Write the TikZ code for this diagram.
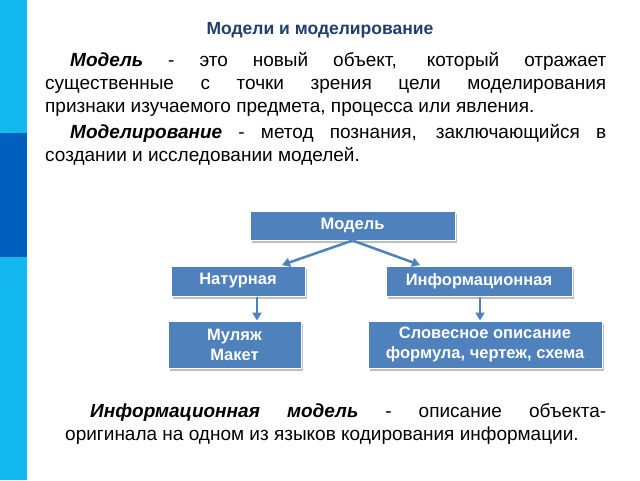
\documentclass[tikz,border=0pt]{standalone}
\usepackage{fontspec}
\setmainfont{Liberation Sans}
\usetikzlibrary{arrows.meta}
\definecolor{lb}{HTML}{12B8EE}
\definecolor{db}{HTML}{0060C0}
\definecolor{bx}{HTML}{4F81BD}
\definecolor{tt}{HTML}{1F3F6F}
\begin{document}
\begin{tikzpicture}[x=1pt,y=-1pt,
 box/.style={draw=white,line width=1pt,fill=bx,text=white,font=\fontsize{16.5}{20}\selectfont\bfseries,align=center,inner sep=0pt},
 arr/.style={-{Triangle[length=8pt,width=9pt]},draw=bx,line width=2.5pt},
 para/.style={anchor=north west,align=justify,inner sep=0pt,font=\fontsize{19}{23}\selectfont}]
\useasboundingbox (0,0) rectangle (640,480);
\fill[white] (0,0) rectangle (640,480);
\fill[lb] (0,0) rectangle (27,480);
\fill[db] (0,133) rectangle (27,257);
\node[font=\fontsize{17.5}{20}\selectfont\bfseries,text=tt] (title) at (320,30) {Модели и моделирование};
\node[para,text width=561pt] (p1) at (45,52) {\hspace*{25pt}\textbf{\textit{Модель}} - это новый объект, который отражает\linebreak существенные с точки зрения цели моделирования\linebreak признаки изучаемого предмета, процесса или явления.\par\vspace{3pt}
\hspace*{25pt}\textbf{\textit{Моделирование}} - метод познания, заключающийся в\linebreak создании и исследовании моделей.};
\foreach \n/\a/\b/\c/\d/\t in {m/250/211/455/240/Модель, n/171/266/305/296/Натурная, i/386/266/572/296/Информационная, mu/168/321/301/368/{Муляж\\Макет}, s/368/321/602/368/{Словесное описание\\формула, чертеж, схема}}{
 \fill[gray!50] (\a+2,\b+3) rectangle (\c+2,\d+3);
 \node[box,minimum width=\c-\a,minimum height=\d-\b] (\n) at ({(\a+\c)/2},{(\b+\d)/2}) {\t};
}
\draw[arr] (m.south) -- (282,265);
\draw[arr] (m.south) -- (420,265);
\draw[arr] (257,297) -- (mu.north -| 257,0);
\draw[arr] (480,297) -- (s.north -| 480,0);
\node[para,text width=541pt] (p2) at (65,403) {\hspace*{25pt}\textbf{\textit{Информационная модель}} - описание объекта-\linebreak оригинала на одном из языков кодирования информации.};
\end{tikzpicture}
\end{document}
